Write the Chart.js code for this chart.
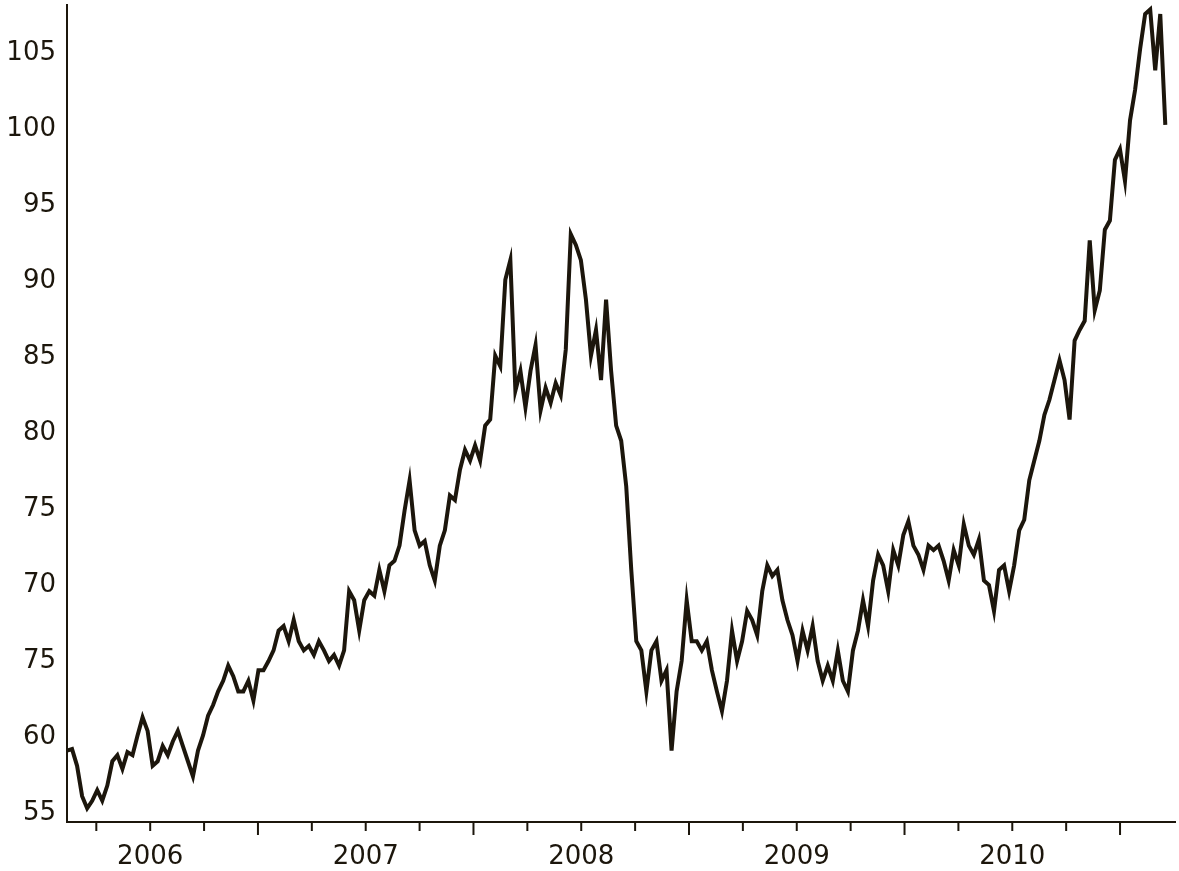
<!DOCTYPE html>
<html><head><meta charset="utf-8">
<script src="https://cdn.jsdelivr.net/npm/chart.js@4/dist/chart.umd.min.js"></script>
<style>html,body{margin:0;background:#fff}#w{width:1179px;height:871px}</style>
</head><body><div id="w"><canvas id="c"></canvas></div>
<script>
const startYear = 2006.114;
const endYear = 2011.21;
const prices = [59.1,59.2,58.1,56.1,55.3,55.8,56.5,55.8,56.8,58.4,58.8,57.9,59.0,58.8,60.1,61.3,60.4,58.1,58.4,59.4,58.8,59.7,60.4,59.4,58.4,57.4,59.1,60.1,61.4,62.1,63.0,63.7,64.7,64.0,63.0,63.0,63.7,62.4,64.4,64.4,65.0,65.7,67.0,67.3,66.3,67.7,66.3,65.7,66.0,65.4,66.3,65.7,65.0,65.4,64.7,65.7,69.6,69.0,67.0,69.0,69.6,69.3,71.0,69.6,71.3,71.6,72.6,74.9,76.9,73.6,72.6,72.9,71.3,70.3,72.6,73.6,75.9,75.6,77.6,78.9,78.2,79.2,78.2,80.5,80.9,85.1,84.4,90.1,91.4,82.8,84.1,81.7,84.1,85.8,81.5,83.0,82.0,83.3,82.5,85.5,93.1,92.4,91.4,88.8,85.1,86.8,83.5,88.8,84.1,80.5,79.5,76.5,71.0,66.3,65.7,63.0,65.7,66.3,63.7,64.4,59.1,63.0,65.0,69.0,66.3,66.3,65.7,66.3,64.4,63.0,61.7,63.7,67.0,65.0,66.3,68.3,67.7,66.7,69.6,71.3,70.6,71.0,69.0,67.7,66.7,65.0,67.0,65.7,67.3,65.0,63.7,64.7,63.7,65.7,63.7,63.0,65.7,67.0,69.0,67.3,70.3,72.0,71.3,69.6,72.3,71.3,73.3,74.2,72.6,72.0,71.0,72.6,72.3,72.6,71.6,70.3,72.3,71.3,74.0,72.6,72.0,73.0,70.3,70.0,68.3,71.0,71.3,69.6,71.3,73.6,74.3,76.9,78.2,79.5,81.2,82.2,83.5,84.8,83.5,80.9,86.1,86.8,87.4,92.7,88.1,89.4,93.4,94.0,98.0,98.7,96.6,100.6,102.6,105.3,107.6,107.9,103.9,107.6,100.3];
const yearLabels = [2006,2007,2008,2009,2010];
const yTickValues = [55,60,65,70,75,80,85,90,95,100,105];
const yTickLabels = ["55","60","75","70","75","80","85","90","95","100","105"];

const pts = prices.map((v,i)=>({x:startYear+(endYear-startYear)*i/(prices.length-1), y:v}));
const ink = '#1c160c';
const tickPlugin = {id:'tk', afterDraw(ch){
  const ctx=ch.ctx, xs=ch.scales.x, ys=ch.scales.y;
  ctx.save(); ctx.strokeStyle=ink; ctx.lineWidth=2;
  const b=ys.getPixelForValue(ys.min);
  for(let q=2006.25;q<2011.2;q+=0.25){
    const px=xs.getPixelForValue(q); const long=Math.abs(q-Math.round(q))<1e-6;
    ctx.beginPath(); ctx.moveTo(px,b); ctx.lineTo(px,b+(long?13:9)); ctx.stroke();
  }
  const lx=ys.right; ctx.beginPath(); ctx.moveTo(lx,ch.chartArea.top); ctx.lineTo(lx,4); ctx.stroke();
  ctx.restore();
}};
new Chart(document.getElementById('c'),{
  type:'line',
  data:{datasets:[{data:pts,borderColor:ink,borderWidth:4,pointRadius:0,tension:0,clip:false}]},
  options:{responsive:true,maintainAspectRatio:false,animation:false,
    layout:{padding:{left:0,right:4,top:0,bottom:0}},
    plugins:{legend:{display:false},tooltip:{enabled:false}},
    scales:{
      x:{type:'linear',min:2006.114,max:2011.255,
        afterFit(s){s.height=49;},
        afterBuildTicks(s){s.ticks=yearLabels.map(y=>({value:y+0.5}));},
        ticks:{callback:v=>String(Math.floor(v)),color:ink,font:{family:'DejaVu Sans',size:26},padding:20,maxRotation:0},
        grid:{display:false,drawTicks:false},border:{display:true,color:ink,width:2}},
      y:{min:54.4,max:107.3,
        afterBuildTicks(s){s.ticks=yTickValues.map(v=>({value:v}));},
        afterFit(s){s.width=67;},
        ticks:{callback:(v)=>yTickLabels[yTickValues.indexOf(v)],color:ink,font:{family:'DejaVu Sans',size:26},padding:3},
        grid:{display:false,drawTicks:true,tickLength:8,tickColor:ink,tickWidth:2},border:{display:true,color:ink,width:2}}
    }},
  plugins:[tickPlugin]
});
</script></body></html>
